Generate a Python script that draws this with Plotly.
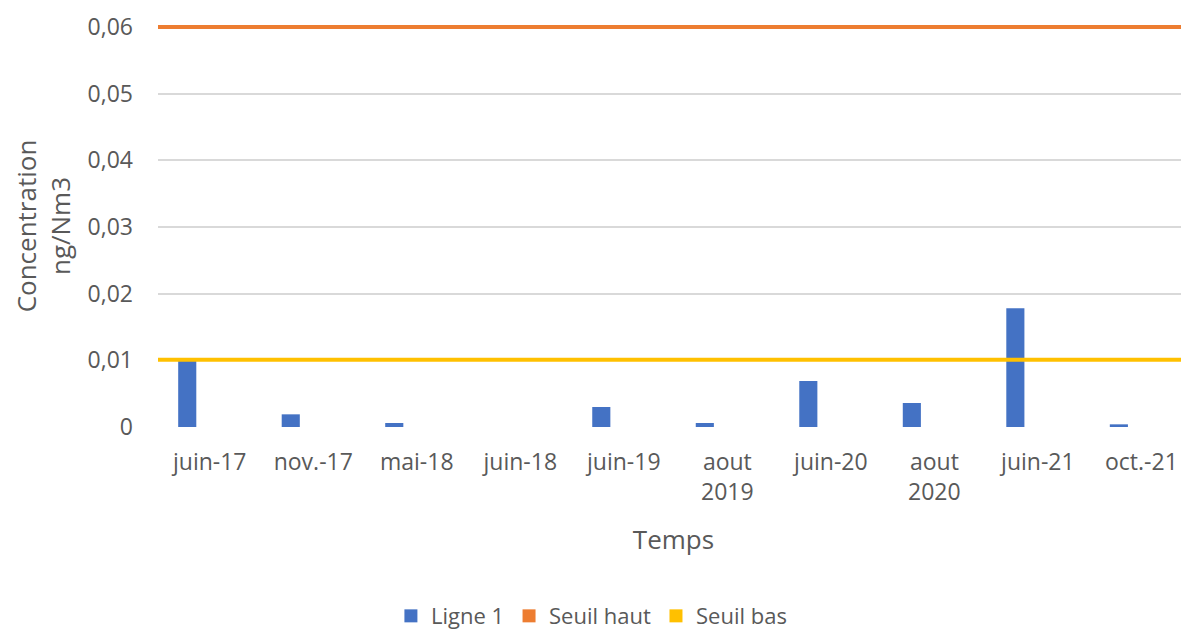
import plotly.graph_objects as go

categories = ["juin-17", "nov.-17", "mai-18", "juin-18", "juin-19", "aout<br>2019",
              "juin-20", "aout<br>2020", "juin-21", "oct.-21"]
ligne1 = [0.0099, 0.0019, 0.0006, 0.0, 0.0030, 0.0006, 0.0069, 0.0036, 0.0178, 0.0004]
seuil_haut = [0.06] * 10
seuil_bas = [0.0101] * 10
y_tickvals = [0, 0.01, 0.02, 0.03, 0.04, 0.05, 0.06]
y_ticktext = ["0", "0,01", "0,02", "0,03", "0,04", "0,05", "0,06"]

FONT = "Open Sans"
TXT = "#595959"
BLUE = "#4472C4"
ORANGE = "#ED7D31"
YELLOW = "#FFC000"

idx = list(range(len(categories)))

fig = go.Figure()
fig.add_trace(go.Bar(x=idx, y=ligne1, name="Ligne 1", marker_color=BLUE,
                     marker_line_width=0, width=0.175, offset=-0.305, showlegend=False))
# threshold lines spanning the full category axis
fig.add_trace(go.Scatter(x=[-0.5, len(categories) - 0.5], y=[seuil_haut[0], seuil_haut[-1]],
                         mode="lines", line=dict(color=ORANGE, width=4),
                         showlegend=False, name="Seuil haut"))
fig.add_trace(go.Scatter(x=[-0.5, len(categories) - 0.5], y=[seuil_bas[0], seuil_bas[-1]],
                         mode="lines", line=dict(color=YELLOW, width=4),
                         showlegend=False, name="Seuil bas"))
# legend-only square entries
for nm, col in [("Ligne 1", BLUE), ("Seuil haut", ORANGE), ("Seuil bas", YELLOW)]:
    fig.add_trace(go.Scatter(x=[None], y=[None], mode="markers", name=nm,
                             marker=dict(symbol="square", size=13, color=col)))

fig.update_layout(
    width=1181, height=623,
    margin=dict(l=150, r=0, t=17, b=204, autoexpand=False),
    paper_bgcolor="white", plot_bgcolor="white",
    font=dict(family=FONT, size=23, color=TXT),
    showlegend=True,
    legend=dict(orientation="h", xref="container", x=0.494, xanchor="center",
                yref="container", y=0.024, yanchor="middle",
                font=dict(size=22, color=TXT), itemwidth=30, traceorder="normal"),
    xaxis=dict(range=[-0.5, 9.46], tickmode="array", tickvals=idx, ticktext=categories,
               showgrid=False, zeroline=False, showline=False, ticks="", automargin=False,
               ticklabelstandoff=19,
               tickfont=dict(size=23, color=TXT),
               title=dict(text="Temps", font=dict(size=26, color=TXT), standoff=24)),
    yaxis=dict(range=[0, 0.0603], tickmode="array", tickvals=y_tickvals, ticktext=y_ticktext,
               showgrid=True, gridcolor="#D9D9D9", gridwidth=2, zeroline=False,
               showline=False, ticks="", tickfont=dict(size=23, color=TXT), automargin=False,
               ticklabelstandoff=24,
               title=dict(text="Concentration<br>ng/Nm3", font=dict(size=26, color=TXT),
                          standoff=25)),
)

fig.write_html("out.html")
